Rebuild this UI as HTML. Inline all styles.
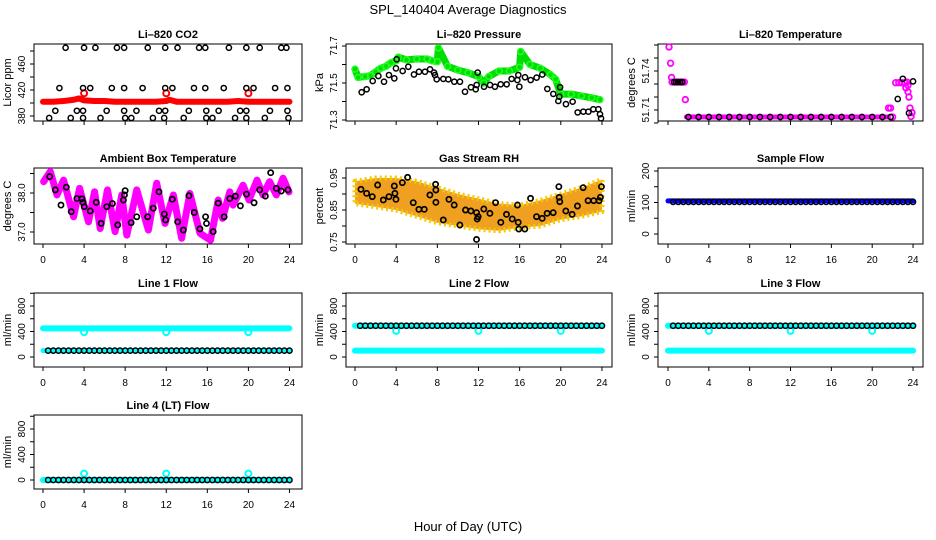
<!DOCTYPE html>
<html><head><meta charset="utf-8"><style>
body{margin:0;background:#fff}
svg{display:block;font-family:"Liberation Sans",sans-serif}
</style></head><body>
<svg id="c" width="936" height="540" viewBox="0 0 936 540" xmlns="http://www.w3.org/2000/svg">
<text x="468" y="14" text-anchor="middle" font-size="13">SPL_140404  Average Diagnostics</text>
<text x="468" y="531" text-anchor="middle" font-size="13">Hour of Day (UTC)</text>
</svg>
<script>
const HRS = [0.5,1,1.5,2,2.5,3,3.5,4,4.5,5,5.5,6,6.5,7,7.5,8,8.5,9,9.5,10,10.5,11,11.5,12,12.5,13,13.5,14,14.5,15,15.5,16,16.5,17,17.5,18,18.5,19,19.5,20,20.5,21,21.5,22,22.5,23,23.5,24];
const HRS0 = [0,1,2,3,4,5,6,7,8,9,10,11,12,13,14,15,16,17,18,19,20,21,22,23,24];
const xTicks = [0,4,8,12,16,20,24];

// CO2
const co2RedH = [0,1,2,3,3.5,4,5,6,7,8,9,10,11,12,12.3,13,14,15,16,17,18,19,20,21,22,23,24];
const co2RedV = [402,402,403,405,407,404,403,403,402,402,402,402,402,403,405,402,402,402,402,402,402,403,402,402,402,402,402];
const co2OutH = [4,12,20];
const co2OutV = [415,415,415];
const co2BlkH = [2.2,4,5.1,7.2,7.9,10.2,11.9,13.1,15.2,15.8,18.1,19.8,21.1,23.2,23.7, 1.6,3.9,4.6,6.7,7.9,9.7,11.9,12.6,14.7,15.8,17.6,19.8,20.5,22.6,23.8, 1.2,3.3,3.9,6.2,7.9,9.1,11.3,11.9,14.2,15.9,17.1,19.2,19.8,22.1,23.8, 0.6,2.7,3.9,5.6,8,8.6,10.7,11.8,13.7,15.9,16.5,18.7,19.8,21.6,23.9];
const co2BlkV = [485,485,485,485,485,485,485,485,485,485,485,485,485,485,485, 423,423,423,423,423,423,423,423,423,423,423,423,423,423,423, 388,388,388,388,388,388,388,388,388,388,388,388,388,388,388, 377,377,377,377,377,377,377,377,377,377,377,377,377,377,377];

// Pressure
const presGrnH = [0,0.3,1,1.5,2,2.5,3,3.5,4,4.2,5,6,7,7.5,8,8.1,9,10,11,12,12.5,13,14,15,16,16.1,17,18,19,19.5,20,21,22,23,23.8];
const presGrnV = [71.575,71.53,71.535,71.54,71.56,71.58,71.59,71.61,71.62,71.64,71.625,71.63,71.63,71.62,71.615,71.69,71.59,71.57,71.555,71.535,71.5,71.535,71.565,71.565,71.585,71.67,71.6,71.58,71.545,71.52,71.44,71.44,71.43,71.42,71.41];
const presBlkH = [0.65,1.13,1.72,2.27,2.82,3.3,3.82,3.98,4.05,4.63,5.18,5.73,6.22,6.8,7.29,7.68,7.77,7.94,8.58,9.07,9.65,10.2,10.69,11.27,11.73,11.82,11.92,12.54,13.12,13.6,14.16,14.74,15.22,15.78,15.87,15.97,16.52,17.07,17.65,18.2,18.69,19.27,19.76,19.86,19.93,20.5,21.15,21.64,22.19,22.68,23.16,23.65,23.81,23.91];
const presBlkV = [71.45,71.466,71.511,71.538,71.507,71.543,71.525,71.579,71.628,71.565,71.588,71.546,71.561,71.561,71.574,71.556,71.543,71.52,71.522,71.52,71.507,71.507,71.453,71.477,71.466,71.489,71.556,71.48,71.489,71.48,71.493,71.493,71.522,71.516,71.543,71.48,71.531,71.516,71.529,71.546,71.468,71.441,71.403,71.426,71.477,71.386,71.399,71.341,71.345,71.345,71.358,71.358,71.331,71.309];

// Li-820 temperature
const tmpMagH = [0.1,0.25,0.35,0.4,0.6,0.8,1.0,1.2,1.4,1.6,1.7,21.6,21.8,22.0,22.3,22.6,22.9,23.2,23.4,23.5,23.6,23.7,23.8,23.9,23.3,23.5];
const tmpMagV = [51.7585,51.746,51.735,51.7315,51.7315,51.7315,51.7315,51.7315,51.7315,51.7315,51.718,51.7115,51.7115,51.7046,51.731,51.731,51.731,51.731,51.7315,51.729,51.72,51.7115,51.705,51.708,51.727,51.724];
const tmpBandH = [1.8,21.5];
const tmpBandV = [51.7046,51.7046];
const tmpBlkH = [0.6,0.8,1.0,1.2,1.4,2,3,4,5,6,7,8,9,10,11,12,13,14,15,16,17,18,19,20,21,21.8,22.5,23,23.6,24];
const tmpBlkV = [51.7315,51.7315,51.7315,51.7315,51.7315,51.7046,51.7046,51.7046,51.7046,51.7046,51.7046,51.7046,51.7046,51.7046,51.7046,51.7046,51.7046,51.7046,51.7046,51.7046,51.7046,51.7046,51.7046,51.7046,51.7046,51.7046,51.7185,51.734,51.7077,51.732];

// Ambient box temperature
const ambMagH = [0.06,0.71,1.36,2.0,2.98,3.56,4.43,5.02,5.57,6.28,7.02,7.67,8.16,9.13,10.26,11.07,11.88,12.69,13.5,14.3,15.28,16.31,17.06,17.48,18.19,18.51,19.48,20.06,20.84,21.42,22.07,22.72,23.37,23.95];
const ambMagV = [38.29,38.55,37.95,38.33,37.39,38.12,37.26,38.03,37.09,38.08,37.01,37.95,36.92,38.08,37.05,38.25,37.22,37.95,36.84,37.99,36.97,36.79,37.82,37.35,38.03,37.69,38.2,37.82,38.33,37.95,38.29,37.95,38.38,38.03];
const ambBlkH = [0.65,1.2,1.75,2.27,2.75,3.3,3.79,3.88,4.01,4.6,5.18,5.66,6.21,6.76,7.28,7.83,7.93,8.0,8.58,9.13,10.19,10.74,11.29,11.81,11.94,12.59,13.11,13.66,14.21,14.72,15.28,15.83,15.92,16.57,17.06,17.64,18.19,18.74,19.22,19.81,20.55,21.1,21.65,22.17,22.72,23.2,23.85];
const ambBlkV = [38.42,38.08,37.69,38.15,37.52,37.86,37.85,37.76,37.65,37.54,37.76,37.22,37.65,37.73,37.18,37.82,37.95,38.06,37.24,37.39,37.39,37.61,38.03,37.46,37.31,37.84,37.26,37.05,37.93,37.5,37.08,37.39,37.22,37.01,37.74,37.39,37.86,37.92,37.67,37.97,37.75,38.08,37.92,38.52,38.12,38.05,38.08];

// Gas stream RH
const rhBandH = [0,2,4,6,8,10,12,14,16,18,20,22,24];
const rhUpper = [0.94,0.95,0.95,0.94,0.92,0.90,0.885,0.87,0.865,0.88,0.90,0.92,0.945];
const rhLower = [0.87,0.86,0.85,0.83,0.81,0.80,0.79,0.785,0.795,0.80,0.82,0.83,0.845];
const rhBlkH = [0.58,1.13,1.68,2.2,2.75,3.3,3.82,3.88,3.98,4.6,5.11,5.66,6.21,6.73,7.28,7.83,7.86,7.86,8.58,9.13,9.64,10.19,10.74,11.26,11.81,11.88,11.97,11.81,12.52,13.11,13.66,14.17,14.72,15.28,15.79,15.86,15.92,16.5,17.06,17.64,18.19,18.67,19.26,19.81,19.84,19.9,20.49,21.1,21.62,22.17,22.65,23.2,23.72,23.85,23.95];
const rhBlkV = [0.9146,0.9021,0.8917,0.9281,0.8813,0.8917,0.925,0.9021,0.8833,0.9354,0.9521,0.8729,0.8521,0.8521,0.8969,0.9302,0.9125,0.874,0.8188,0.8833,0.8656,0.8031,0.85,0.8469,0.8417,0.8219,0.8292,0.758,0.8531,0.8396,0.8729,0.8115,0.8365,0.8219,0.8656,0.8115,0.7906,0.7906,0.8865,0.8292,0.824,0.8396,0.8417,0.9229,0.8896,0.876,0.8469,0.8365,0.8625,0.9198,0.8792,0.8792,0.8792,0.8896,0.9229];

// Flows
const sampBlueV = [105,105];
const sampBlkV = [102,102,102,102,102,102,102,102,102,102,102,102,102,102,102,102,102,102,102,102,102,102,102,102,102,102,102,102,102,102,102,102,102,102,102,102,102,102,102,102,102,102,102,102,102,102,102,102];
const bandH = [0,24];
const l1CyanHiV = [450,450];
const l1CyanLoV = [100,100];
const l1BlkV = [100,100,100,100,100,100,100,100,100,100,100,100,100,100,100,100,100,100,100,100,100,100,100,100,100,100,100,100,100,100,100,100,100,100,100,100,100,100,100,100,100,100,100,100,100,100,100,100];
const l1DipV = [390,390,390];
const l2CyanHiV = [490,490];
const l2CyanLoV = [100,100];
const l2BlkV = [490,490,490,490,490,490,490,490,490,490,490,490,490,490,490,490,490,490,490,490,490,490,490,490,490,490,490,490,490,490,490,490,490,490,490,490,490,490,490,490,490,490,490,490,490,490,490,490];
const l2DipV = [410,410,410];
const l3CyanHiV = [490,490];
const l3CyanLoV = [100,100];
const l3BlkV = [490,490,490,490,490,490,490,490,490,490,490,490,490,490,490,490,490,490,490,490,490,490,490,490,490,490,490,490,490,490,490,490,490,490,490,490,490,490,490,490,490,490,490,490,490,490,490,490];
const l3DipV = [410,410,410];
const l4CyanV = [0,0];
const l4BlkV = [0,0,0,0,0,0,0,0,0,0,0,0,0,0,0,0,0,0,0,0,0,0,0,0,0,0,0,0,0,0,0,0,0,0,0,0,0,0,0,0,0,0,0,0,0,0,0,0];
const l4OutV = [100,100,100];
const dipH = [4,12,20];

const NS = 'http://www.w3.org/2000/svg';
const svg = document.getElementById('c');
function mk(tag, attrs, parent){
  const e = document.createElementNS(NS, tag);
  for (const k in attrs) e.setAttribute(k, attrs[k]);
  (parent || svg).appendChild(e);
  return e;
}
const COLS = [{L:34,R:302,x0:43,sx:10.27},{L:346,R:612,x0:355,sx:10.29},{L:658,R:923,x0:668,sx:10.21}];
const ROWS = [{T:44,B:121},{T:168,B:244},{T:293,B:367},{T:415,B:489}];

function panel(name, col, row, title, ylab, v1, p1, v2, p2, ticks, labels, showX){
  const C = COLS[col], Rw = ROWS[row];
  const g = mk('g', {});
  
  
  const X = h => C.x0 + h * C.sx;
  const Y = v => p1 + (v - v1) * (p2 - p1) / (v2 - v1);
  const t = mk('text', {x:(C.L+C.R)/2, y:Rw.T-6, 'text-anchor':'middle','font-size':11,'font-weight':'bold'}, g);
  t.textContent = title;
  
  
  const yl = mk('text', {transform:`translate(${C.L-23},${(Rw.T+Rw.B)/2}) rotate(-90)`, 'text-anchor':'middle','font-size':11}, g);
  yl.textContent = ylab;
  
  
  const box = mk('rect', {x:C.L, y:Rw.T, width:C.R-C.L, height:Rw.B-Rw.T, fill:'none', stroke:'#000','stroke-width':1}, g);
  
  
  const plot = mk('g', {}, g);
  
  
  // x axis
  const xa = mk('g', {}, g);
  
  
  mk('line', {x1:X(0), x2:X(24), y1:Rw.B, y2:Rw.B, stroke:'#000'}, xa);
  xTicks.forEach(h => {
    mk('line', {x1:X(h), x2:X(h), y1:Rw.B, y2:Rw.B+4, stroke:'#000'}, xa);
    if (showX){
      const tl = mk('text', {x:X(h), y:Rw.B+19, 'text-anchor':'middle','font-size':10}, xa);
      tl.textContent = h;
      
      
    }
  });
  const ya = mk('g', {}, g);
  
  
  mk('line', {x1:C.L, x2:C.L, y1:Y(ticks[0]), y2:Y(ticks[ticks.length-1]), stroke:'#000'}, ya);
  ticks.forEach(v => mk('line', {x1:C.L-4, x2:C.L, y1:Y(v), y2:Y(v), stroke:'#000'}, ya));
  labels.forEach(v => {
    const tl = mk('text', {transform:`translate(${C.L-9},${Y(v)}) rotate(-90)`, 'text-anchor':'middle','font-size':10}, ya);
    tl.textContent = v;
    
    
  });
  return {X, Y, g:plot};
}
function pts(P, hs, vs, color, name, r, sw){
  const g = mk('g', {}, P.g);
  
  
  hs.forEach((h, i) => {
    const c = mk('circle', {cx:P.X(h), cy:P.Y(vs[i]), r:r||2.6, fill:'none', stroke:color, 'stroke-width':sw||1.5}, g);
    
    
  });
}
function band(P, hs, vs, color, name, w){
  const p = mk('polyline', {points:hs.map((h,i)=>P.X(h)+','+P.Y(vs[i])).join(' '), fill:'none', stroke:color, 'stroke-width':w, 'stroke-linejoin':'round','stroke-linecap':'round'}, P.g);
  
  
}

// Row 1
let P = panel('co2-panel',0,0,'Li\u2013820 CO2','Licor ppm',380,116,460,64,[380,400,420,440,460,480],[380,420,460],false);
band(P, co2RedH, co2RedV, '#ff0000', 'co2-red-band', 6);
pts(P, co2OutH, co2OutV, '#ff0000', 'co2-red-outliers', 3, 2);
pts(P, co2BlkH, co2BlkV, '#000', 'co2-black-points', 2.6, 1.5);

P = panel('pressure-panel',1,0,'Li\u2013820 Pressure','kPa',71.7,46,71.3,120,[71.3,71.4,71.5,71.6,71.7],[71.3,71.5,71.7],false);
band(P, presGrnH, presGrnV, '#00dd00', 'pressure-green-band', 7);
pts(P, presGrnH, presGrnV, '#22ff22', 'pressure-green-points', 3, 1.5);
pts(P, presBlkH, presBlkV, '#000', 'pressure-black-points', 2.6, 1.5);

P = panel('li820-temp-panel',2,0,'Li\u2013820 Temperature','degrees C',51.74,71,51.71,110,[51.70,51.71,51.72,51.73,51.74,51.75,51.76],[51.71,51.74],false);
band(P, tmpBandH, tmpBandV, '#ff00ff', 'temp-magenta-band', 5);
pts(P, tmpMagH, tmpMagV, '#ff00ff', 'temp-magenta-points', 2.8, 1.8);
pts(P, tmpBlkH, tmpBlkV, '#000', 'temp-black-points', 2.6, 1.5);

// Row 2
P = panel('ambient-temp-panel',0,1,'Ambient Box Temperature','degrees C',38,193,37,232,[37,37.5,38,38.5],['37.0','38.0'],true);
band(P, ambMagH, ambMagV, '#ff00ff', 'ambient-magenta-band', 7);
pts(P, ambBlkH, ambBlkV, '#000', 'ambient-black-points', 2.6, 1.7);

P = panel('rh-panel',1,1,'Gas Stream RH','percent',0.95,178,0.75,242,[0.75,0.8,0.85,0.9,0.95],['0.75','0.85','0.95'],true);
{
  const up = rhBandH.map((h,i)=>P.X(h)+','+P.Y(rhUpper[i]));
  const lo = rhBandH.map((h,i)=>P.X(h)+','+P.Y(rhLower[i])).reverse();
  const a = mk('polygon', {points:up.concat(lo).join(' '), fill:'#f0a020', stroke:'#f5c800','stroke-width':5,'stroke-linejoin':'round','stroke-dasharray':'2 3'}, P.g);
  
  
}
pts(P, rhBlkH, rhBlkV, '#000', 'rh-black-points', 2.6, 1.7);

P = panel('sample-flow-panel',2,1,'Sample Flow','ml/min',200,171,0,234,[0,50,100,150,200],[0,100,200],true);
band(P, bandH, sampBlueV, '#0000ff', 'sample-blue-band', 5);
pts(P, HRS, sampBlkV, '#000', 'sample-black-points', 2.6, 1.5);

// Row 3
const fT = [0,200,400,600,800,1000], fL = [0,400,800];
P = panel('line1-flow-panel',0,2,'Line 1 Flow','ml/min',0,357,800,306,fT,fL,true);
band(P, bandH, l1CyanHiV, '#00ffff', 'line1-cyan-high', 6);
band(P, bandH, l1CyanLoV, '#00ffff', 'line1-cyan-low', 5);
pts(P, dipH, l1DipV, '#00ffff', 'line1-dips', 3, 2);
pts(P, HRS, l1BlkV, '#000', 'line1-black-points', 2.6, 1.5);

P = panel('line2-flow-panel',1,2,'Line 2 Flow','ml/min',0,357,800,306,fT,fL,true);
band(P, bandH, l2CyanHiV, '#00ffff', 'line2-cyan-high', 6);
band(P, bandH, l2CyanLoV, '#00ffff', 'line2-cyan-low', 6);
pts(P, dipH, l2DipV, '#00ffff', 'line2-dips', 3, 2);
pts(P, HRS, l2BlkV, '#000', 'line2-black-points', 2.6, 1.5);

P = panel('line3-flow-panel',2,2,'Line 3 Flow','ml/min',0,357,800,306,fT,fL,true);
band(P, bandH, l3CyanHiV, '#00ffff', 'line3-cyan-high', 6);
band(P, bandH, l3CyanLoV, '#00ffff', 'line3-cyan-low', 6);
pts(P, dipH, l3DipV, '#00ffff', 'line3-dips', 3, 2);
pts(P, HRS, l3BlkV, '#000', 'line3-black-points', 2.6, 1.5);

// Row 4
P = panel('line4-flow-panel',0,3,'Line 4 (LT) Flow','ml/min',0,480,800,429,fT,fL,true);
band(P, bandH, l4CyanV, '#00ffff', 'line4-cyan-band', 6);
pts(P, dipH, l4OutV, '#00ffff', 'line4-outliers', 3, 2);
pts(P, HRS, l4BlkV, '#000', 'line4-black-points', 2.6, 1.5);
</script>
</body></html>
